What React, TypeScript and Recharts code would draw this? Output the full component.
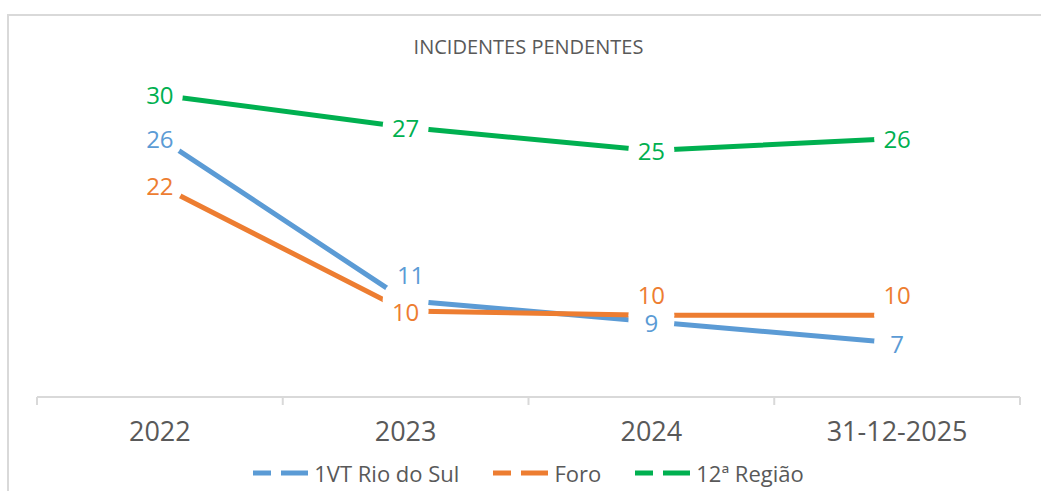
import { LineChart, Line, XAxis, YAxis, LabelList } from 'recharts'

const years = ['2022', '2023', '2024', '31-12-2025']
const rioDoSul = [26, 10.95, 8.98, 7]
const foro = [21.6, 9.97, 9.57, 9.57]
const regiao12 = [30, 27, 24.85, 25.96]

// label nudges (px) where the original moved a label off its point
const rioLabelDx = [0, 5, 0, 0]
const rioLabelDy = [0, -26, 1, 0]
const foroLabelDy = [0, 0, -21, -21]

const W = 1041
const H = 491
const MARGIN = { top: 41, right: 21, bottom: 34, left: 37 }
const HALF_BAND = (W - MARGIN.left - MARGIN.right) / years.length / 2
const FONT = "'Open Sans', 'Noto Sans', sans-serif"
const GREY = '#595959'

const BLUE = '#5B9BD5'
const ORANGE = '#ED7D31'
const GREEN = '#00B050'

const data = years.map((year, i) => ({
  pos: i + 0.5,
  year,
  rio: rioDoSul[i],
  foro: foro[i],
  regiao: regiao12[i]
}))

const series = [
  { key: 'rio', name: '1VT Rio do Sul', color: BLUE, dx: rioLabelDx, dy: rioLabelDy },
  { key: 'foro', name: 'Foro', color: ORANGE, dx: [0, 0, 0, 0], dy: foroLabelDy },
  { key: 'regiao', name: '12ª Região', color: GREEN, dx: [0, 0, 0, 0], dy: [0, 0, 0, 0] }
]

function YearTick(props: any) {
  const { x, y, payload } = props
  const label = years[payload.value]
  if (!label) return null
  return (
    <text x={x + HALF_BAND} y={y} dy={34} textAnchor="middle" fill={GREY} fontSize={27} fontFamily={FONT}>
      {label}
    </text>
  )
}

function makeLabel(color: string, dx: number[], dy: number[]) {
  return (props: any) => {
    const { x, y, value, index } = props
    return (
      <text
        x={x + (dx[index] ?? 0)}
        y={y + (dy[index] ?? 0)}
        textAnchor="middle"
        dominantBaseline="central"
        fill={color}
        fontSize={24}
        fontFamily={FONT}
      >
        {Math.round(value)}
      </text>
    )
  }
}

function LegendRow() {
  return (
    <div
      style={{
        position: 'absolute',
        left: MARGIN.left,
        width: W - MARGIN.left - MARGIN.right,
        top: 458,
        display: 'flex',
        justifyContent: 'center',
        gap: 34,
        fontFamily: FONT,
        fontSize: 22,
        color: GREY
      }}
    >
      {series.map((s) => (
        <div key={s.key} style={{ display: 'flex', alignItems: 'center', gap: 6 }}>
          <svg width={55} height={10}>
            <line x1={0} y1={5} x2={55} y2={5} stroke={s.color} strokeWidth={5} strokeDasharray="18 10 27" />
          </svg>
          <span>{s.name}</span>
        </div>
      ))}
    </div>
  )
}

export default function App() {
  return (
    <div style={{ position: 'absolute', left: 0, top: 0, width: W, height: H, overflow: 'hidden', background: '#fff' }}>
      <div
        style={{
          position: 'absolute',
          left: 7,
          top: 14,
          width: W + 20,
          height: H + 20,
          border: '2px solid #d9d9d9'
        }}
      />
      <div
        style={{
          position: 'absolute',
          left: MARGIN.left,
          width: W - MARGIN.left - MARGIN.right,
          top: 33,
          textAlign: 'center',
          fontFamily: FONT,
          fontSize: 20,
          color: GREY
        }}
      >
        INCIDENTES PENDENTES
      </div>
      <div style={{ position: 'absolute', left: 0, top: 0 }}>
        <LineChart width={W} height={H} data={data} margin={MARGIN}>
          <XAxis
            dataKey="pos"
            type="number"
            domain={[0, years.length]}
            ticks={[0, 1, 2, 3, 4]}
            interval={0}
            height={60}
            axisLine={{ stroke: '#d9d9d9', strokeWidth: 2 }}
            tickLine={{ stroke: '#d9d9d9', strokeWidth: 2 }}
            tickSize={8}
            tick={<YearTick />}
          />
          <YAxis hide type="number" domain={[2, 35]} />
          {series.map((s) => (
            <Line
              key={s.key}
              dataKey={s.key}
              name={s.name}
              stroke={s.color}
              strokeWidth={5}
              dot={{ r: 23, fill: '#fff', stroke: 'none' }}
              activeDot={false}
              isAnimationActive={false}
            />
          ))}
          {series.map((s) => (
            <Line
              key={s.key + '-labels'}
              dataKey={s.key}
              stroke="none"
              dot={false}
              activeDot={false}
              legendType="none"
              isAnimationActive={false}
            >
              <LabelList dataKey={s.key} content={makeLabel(s.color, s.dx, s.dy)} />
            </Line>
          ))}
        </LineChart>
      </div>
      <LegendRow />
    </div>
  )
}
